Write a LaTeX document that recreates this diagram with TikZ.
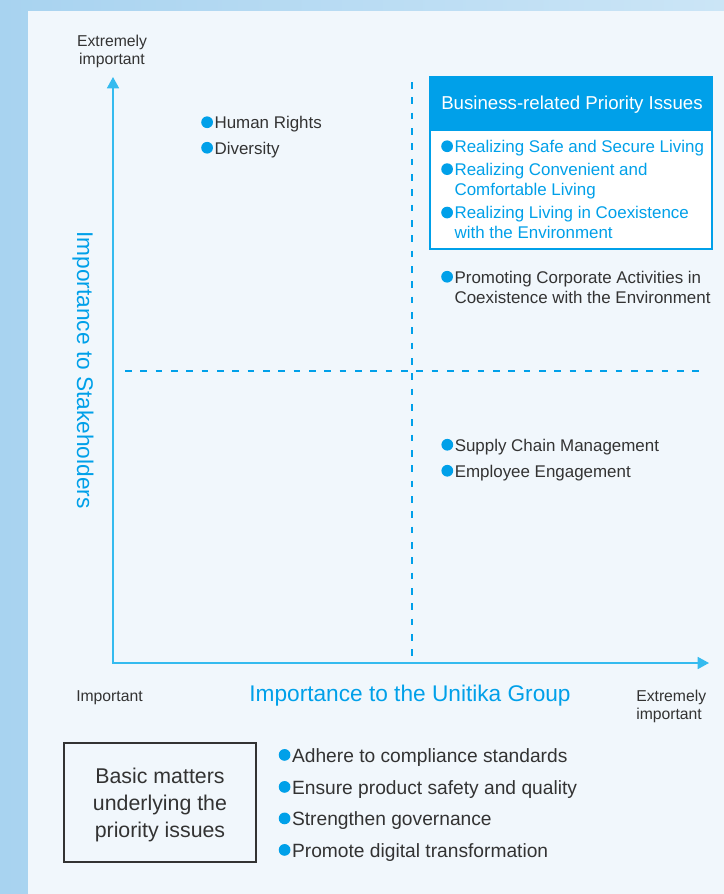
\documentclass[tikz,border=0pt]{standalone}
\usepackage{fontspec}
\setmainfont{Liberation Sans}
\usetikzlibrary{arrows.meta}
\definecolor{unicyan}{HTML}{00A0E9}
\definecolor{axisblue}{HTML}{35BBEF}
\definecolor{inkgray}{HTML}{333333}
\definecolor{panelbg}{HTML}{F1F7FC}
\definecolor{outerdark}{HTML}{A8D3F0}
\definecolor{outerlight}{HTML}{CBE5F6}
\newcommand{\bdot}{\llap{\tikz[baseline=-0.7ex]\fill[unicyan] (0,0) circle (4.4pt);\hspace{1.2pt}}}
\begin{document}
\begin{tikzpicture}[x=0.75pt,y=-0.75pt,
    note/.style={text=inkgray, inner sep=0pt, font=\fontsize{11.8}{13.5}\selectfont},
    item/.style={text=inkgray, inner sep=0pt, anchor=base west, align=left,
      font=\fontsize{12.7}{15}\selectfont},
    cyanitem/.style={item, text=unicyan},
    baseitem/.style={item, font=\fontsize{14.4}{17}\selectfont},
    axistitle/.style={text=unicyan, inner sep=0pt, font=\fontsize{17}{20}\selectfont},
    axis/.style={draw=axisblue, line width=1.3pt, {Triangle[length=8.5pt,width=9pt]}-{Triangle[length=8.5pt,width=9pt]}},
    split/.style={draw=unicyan, line width=1.1pt, dash pattern=on 5pt off 6.5pt}]
  \useasboundingbox (0,0) rectangle (724,894);
  % background and panel
  \shade[left color=outerdark, right color=outerlight] (0,0) rectangle (724,894);
  \fill[panelbg] (28,11) rectangle (724,894);

  % axes
  \coordinate (origin) at (113,663);
  \coordinate (ytip) at (113,77);
  \coordinate (xtip) at (709,663);
  \draw[axis] (ytip) -- (origin) -- (xtip);

  % quadrant lines
  \coordinate (vtop) at (412,82);
  \coordinate (vbot) at (412,663);
  \coordinate (hleft) at (125,371);
  \coordinate (hright) at (700,371);
  \draw[split] (vtop) -- (vbot);
  \draw[split] (hleft) -- (hright);

  % axis labels (multi-line nodes sit on their last baseline)
  \node[note, anchor=base, align=center] (ymax) at (112,64) {Extremely\\important};
  \node[axistitle, rotate=-90] (ytitle) at (83,370) {Importance to Stakeholders};
  \node[note, anchor=base west] (xmin) at (76,701.5) {Important};
  \node[axistitle, anchor=base] (xtitle) at (410,701) {Importance to the Unitika Group};
  \node[note, anchor=base west, align=left] (xmax) at (636,719.5) {Extremely\\important};

  % upper left quadrant
  \node[item] (rights) at (214.3,128.5) {\bdot Human Rights};
  \node[item] (diversity) at (214.3,154) {\bdot Diversity};

  % business-related priority issues
  \draw[unicyan, line width=1.5pt, fill=white] (430,77) rectangle (712,249);
  \fill[unicyan] (430,77) rectangle (712,131);
  \node[text=white, inner sep=0pt, anchor=base, font=\fontsize{14}{16}\selectfont] (bizhead) at (572,109) {Business-related Priority Issues};
  \node[cyanitem] (safe) at (454.3,152.5) {\bdot Realizing Safe and Secure Living};
  \node[cyanitem] (comfort) at (454.3,195.4) {\bdot Realizing Convenient and\\Comfortable Living};
  \node[cyanitem] (coexist) at (454.3,238.8) {\bdot Realizing Living in Coexistence\\with the Environment};
  \node[item] (corporate) at (454.3,303) {\bdot Promoting Corporate Activities in\\Coexistence with the Environment};

  % lower right quadrant
  \node[item] (supply) at (454.5,451) {\bdot Supply Chain Management};
  \node[item] (engage) at (454.5,477) {\bdot Employee Engagement};

  % basic matters
  \draw[inkgray, line width=1pt] (64,743) rectangle (256,862);
  \node[text=inkgray, inner sep=0pt, anchor=base, align=center, font=\fontsize{16}{20}\selectfont] (basic) at (160,837.3) {Basic matters\\underlying the\\priority issues};
  \node[baseitem] (comply) at (291.8,762) {\bdot Adhere to compliance standards};
  \node[baseitem] (safety) at (291.8,794) {\bdot Ensure product safety and quality};
  \node[baseitem] (govern) at (291.8,825.5) {\bdot Strengthen governance};
  \node[baseitem] (digital) at (291.8,857) {\bdot Promote digital transformation};
\end{tikzpicture}
\end{document}
